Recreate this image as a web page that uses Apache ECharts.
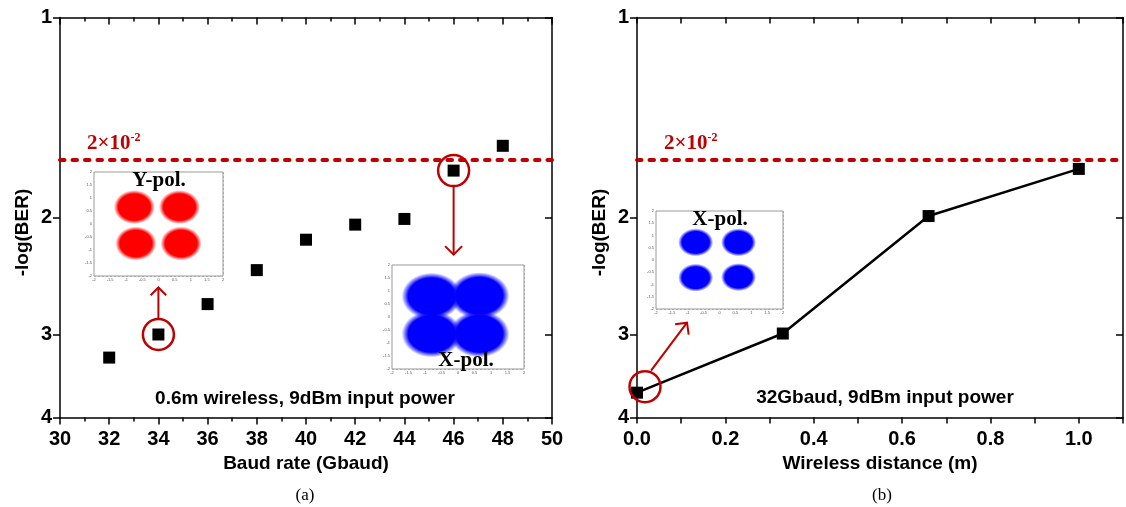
<!DOCTYPE html>
<html><head><meta charset="utf-8">
<script src="https://cdn.jsdelivr.net/npm/echarts@6/dist/echarts.min.js"></script>
<style>html,body{margin:0;padding:0;background:#fff}#c{width:1126px;height:507px}</style>
</head><body><div id="c"></div>
<script>
// ---- data ----
const baudRates = [32, 34, 36, 38, 40, 42, 44, 46, 48];
const berVsBaud = [3.25, 3.0, 2.70, 2.40, 2.16, 2.05, 2.01, 1.70, 1.56];
const distances = [0, 0.33, 0.66, 1.0];
const berVsDist = [3.67, 2.99, 1.99, 1.69];
const thresholdLevel = 1.635;
const yTickValues = [1, 2, 3, 4];
const highlightBaudIdx = [1, 7];
const highlightDistIdx = [0];
// constellation cluster centres (inset diagrams)
const yPolClusters = [[-0.75, 0.65], [0.65, 0.65], [-0.7, -0.75], [0.7, -0.75]];
const xPolHighBaudClusters = [[-0.8, 0.8], [0.65, 0.82], [-0.8, -0.65], [0.65, -0.65]];
const xPolShortClusters = [[-0.75, 0.72], [0.6, 0.72], [-0.75, -0.72], [0.6, -0.7]];

const SANS = 'Liberation Sans, Arial, Helvetica, sans-serif';
const SERIF = 'Liberation Serif, Times New Roman, serif';
const RED = '#c00000';

const chart = echarts.init(document.getElementById('c'), null, {renderer: 'canvas'});

function yAxisMain(gridIndex, right) {
  return {
    type: 'log', logBase: 10, gridIndex, position: right ? 'right' : 'left',
    min: 1, max: 4, inverse: true,
    axisLine: {show: true, onZero: false, lineStyle: {color: '#000', width: 1.5}},
    axisTick: {show: true, inside: right, length: 7, customValues: yTickValues, lineStyle: {color: '#000', width: 1.5}},
    axisLabel: {show: !right, customValues: yTickValues, fontFamily: SANS, fontWeight: 'bold', fontSize: 20, color: '#000', margin: 8},
    splitLine: {show: false}, minorTick: {show: false}, minorSplitLine: {show: false},
    name: right ? '' : '-log(BER)', nameLocation: 'middle', nameGap: 28,
    nameTextStyle: {fontFamily: SANS, fontWeight: 'bold', fontSize: 19, color: '#000', padding: [0, 30, 0, 0]}
  };
}
function xAxisMain(gridIndex, top, min, max, interval, fmt, name, minorSplit, tickLen) {
  return {
    type: 'value', gridIndex, position: top ? 'top' : 'bottom', min, max, interval,
    axisLine: {show: true, onZero: false, lineStyle: {color: '#000', width: 1.5}},
    axisTick: {show: true, inside: top, length: tickLen, lineStyle: {color: '#000', width: 1.5}},
    minorTick: {show: minorSplit > 0, splitNumber: minorSplit || 5, length: 4, lineStyle: {color: '#000', width: 1.5}},
    axisLabel: {show: !top, formatter: fmt, fontFamily: SANS, fontWeight: 'bold', fontSize: 20, color: '#000', margin: 12},
    splitLine: {show: false},
    name: top ? '' : name, nameLocation: 'middle', nameGap: 36,
    nameTextStyle: {fontFamily: SANS, fontWeight: 'bold', fontSize: 19, color: '#000'}
  };
}
function insetAxis(gridIndex) {
  return {
    type: 'value', gridIndex, min: -2, max: 2, interval: 0.5,
    axisLine: {show: false}, axisTick: {show: false},
    axisLabel: {show: true, fontSize: 4, color: '#555', margin: 2, fontFamily: SANS},
    splitLine: {show: true, lineStyle: {color: '#888', width: 0.6, type: [2, 2]}}
  };
}
function cloud(c) {
  return {type: 'radial', x: 0.5, y: 0.5, r: 0.5, colorStops: [
    {offset: 0, color: c}, {offset: 0.78, color: c}, {offset: 1, color: c.replace('1)', '0)')}]};
}

const distFmt = v => (Math.abs(Math.round(v * 10) % 2) === 0 && v <= 1.0001) ? v.toFixed(1) : '';

const option = {
  animation: false,
  backgroundColor: '#fff',
  grid: [
    {left: 60, top: 17.5, width: 492, height: 400},
    {left: 637, top: 17.5, width: 489, height: 400},
    {left: 94, top: 172, width: 129, height: 104, show: true, backgroundColor: '#fff', borderColor: '#999', borderWidth: 1, z: 3},
    {left: 392, top: 265, width: 132, height: 104, show: true, backgroundColor: '#fff', borderColor: '#999', borderWidth: 1, z: 3},
    {left: 656, top: 211, width: 127, height: 98, show: true, backgroundColor: '#fff', borderColor: '#999', borderWidth: 1, z: 3}
  ],
  xAxis: [
    xAxisMain(0, false, 30, 50, 2, v => v, 'Baud rate (Gbaud)', 2, 7),
    xAxisMain(0, true, 30, 50, 2, v => v, '', 2, 7),
    xAxisMain(1, false, 0, 1.1, 0.1, distFmt, 'Wireless distance (m)', 0, 6),
    xAxisMain(1, true, 0, 1.1, 0.1, distFmt, '', 0, 6),
    insetAxis(2), insetAxis(3), insetAxis(4)
  ],
  yAxis: [
    yAxisMain(0, false), yAxisMain(0, true),
    yAxisMain(1, false), yAxisMain(1, true),
    insetAxis(2), insetAxis(3), insetAxis(4)
  ],
  series: [
    {
      type: 'scatter', xAxisIndex: 0, yAxisIndex: 0, symbol: 'rect', symbolSize: 12,
      itemStyle: {color: '#000', opacity: 1}, z: 5,
      data: baudRates.map((b, i) => [b, berVsBaud[i]]),
      markLine: {silent: true, symbol: 'none', label: {show: false},
        lineStyle: {color: RED, width: 4, type: [4.5, 8], cap: 'round'},
        data: [{yAxis: thresholdLevel}]}
    },
    {
      type: 'line', xAxisIndex: 2, yAxisIndex: 2, symbol: 'rect', symbolSize: 12, showSymbol: true,
      itemStyle: {color: '#000', opacity: 1}, lineStyle: {color: '#000', width: 2.5}, z: 5,
      data: distances.map((d, i) => [d, berVsDist[i]]),
      markLine: {silent: true, symbol: 'none', label: {show: false},
        lineStyle: {color: RED, width: 4, type: [4.5, 8], cap: 'round'},
        data: [{yAxis: thresholdLevel}]}
    },
    {
      type: 'scatter', xAxisIndex: 0, yAxisIndex: 0, symbol: 'circle', symbolSize: 31, z: 6,
      itemStyle: {color: 'rgba(0,0,0,0)', borderColor: RED, borderWidth: 2.5, opacity: 1},
      data: highlightBaudIdx.map(i => [baudRates[i], berVsBaud[i]])
    },
    {
      type: 'scatter', xAxisIndex: 2, yAxisIndex: 2, symbol: 'circle', symbolSize: 31, symbolOffset: [8, -6], z: 6,
      clip: false,
      itemStyle: {color: 'rgba(0,0,0,0)', borderColor: RED, borderWidth: 2.5, opacity: 1},
      data: highlightDistIdx.map(i => [distances[i], berVsDist[i]])
    },
    {type: 'scatter', xAxisIndex: 4, yAxisIndex: 4, symbol: 'circle', symbolSize: [41, 34], z: 4,
      itemStyle: {color: cloud('rgba(255,0,0,1)'), opacity: 1}, data: yPolClusters},
    {type: 'scatter', xAxisIndex: 5, yAxisIndex: 5, symbol: 'circle', symbolSize: [60, 47], z: 4,
      itemStyle: {color: cloud('rgba(0,0,255,1)'), opacity: 1}, data: xPolHighBaudClusters},
    {type: 'scatter', xAxisIndex: 6, yAxisIndex: 6, symbol: 'circle', symbolSize: [35, 28], z: 4,
      itemStyle: {color: cloud('rgba(0,0,255,1)'), opacity: 1}, data: xPolShortClusters}
  ]
};
chart.setOption(option);

// ---- annotations positioned from data coordinates ----
function arrow(x1, y1, x2, y2, L) {
  const th = Math.atan2(y2 - y1, x2 - x1), a = Math.PI / 4;
  const w1 = [x2 - L * Math.cos(th - a), y2 - L * Math.sin(th - a)];
  const w2 = [x2 - L * Math.cos(th + a), y2 - L * Math.sin(th + a)];
  return [
    {type: 'line', z: 20, shape: {x1, y1, x2, y2}, style: {stroke: RED, lineWidth: 2}},
    {type: 'polyline', z: 20, shape: {points: [w1, [x2, y2], w2]}, style: {stroke: RED, lineWidth: 2, fill: null}}
  ];
}
const p34 = chart.convertToPixel({gridIndex: 0}, [baudRates[1], berVsBaud[1]]);
const p46 = chart.convertToPixel({gridIndex: 0}, [baudRates[7], berVsBaud[7]]);
const p0 = chart.convertToPixel({gridIndex: 1}, [distances[0], berVsDist[0]]);
const thL = chart.convertToPixel({gridIndex: 0}, [30, thresholdLevel]);
const thR = chart.convertToPixel({gridIndex: 1}, [0, thresholdLevel]);

function threshLabel(x, y) {
  return {type: 'text', z: 20, left: x, top: y, style: {
    text: '{a|2×10}{s|-2}', rich: {
      a: {fontFamily: SERIF, fontWeight: 'bold', fontSize: 21, fill: RED, lineHeight: 22, verticalAlign: 'bottom'},
      s: {fontFamily: SERIF, fontWeight: 'bold', fontSize: 12, fill: RED, lineHeight: 22, verticalAlign: 'top'}
    }}};
}
function txt(x, y, s, font, size, weight, align) {
  return {type: 'text', z: 20, x, y, style: {text: s, fontFamily: font, fontSize: size, fontWeight: weight,
    fill: '#000', align: align || 'center', verticalAlign: 'middle'}};
}

const graphics = [].concat(
  arrow(p34[0], p34[1] - 16, p34[0], p34[1] - 47, 11),
  arrow(p46[0], p46[1] + 15, p46[0], p46[1] + 84, 12),
  arrow(p0[0] + 14, p0[1] - 22, p0[0] + 50, p0[1] - 70, 12),
  [
    threshLabel(thL[0] + 27, thL[1] - 27),
    threshLabel(thR[0] + 27, thR[1] - 27),
    txt(159, 181, 'Y-pol.', SERIF, 21, 'bold'),
    txt(466, 361, 'X-pol.', SERIF, 21, 'bold'),
    txt(720, 220, 'X-pol.', SERIF, 21, 'bold'),
    txt(305, 399, '0.6m wireless, 9dBm input power', SANS, 19, 'bold'),
    txt(885, 398, '32Gbaud, 9dBm input power', SANS, 19, 'bold'),
    txt(305, 496, '(a)', SERIF, 17, 'normal'),
    txt(882, 496, '(b)', SERIF, 17, 'normal')
  ]
);
chart.setOption({graphic: graphics});
</script></body></html>
